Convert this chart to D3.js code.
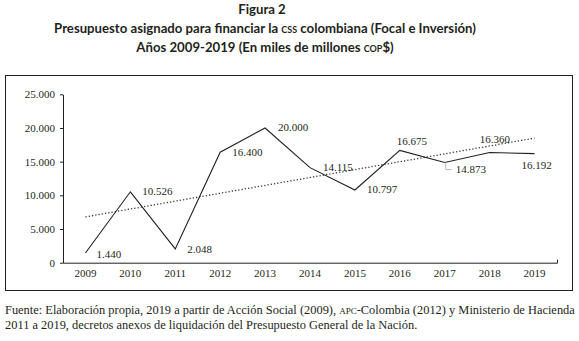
<!DOCTYPE html>
<html>
<head>
<meta charset="utf-8">
<script src="https://cdn.jsdelivr.net/npm/d3@7"></script>
<style>
  body { margin: 0; background: #fff; }
  svg { display: block; }
</style>
</head>
<body>
<div id="chart"></div>
<script>
// Data
const years = ["2009", "2010", "2011", "2012", "2013", "2014", "2015", "2016", "2017", "2018", "2019"];
const budget = [1440, 10526, 2048, 16400, 20000, 14115, 10797, 16675, 14873, 16360, 16192];
const trendEnds = [6800, 18500];   // dotted trend line, read at 2009 and 2019
const yTicks = [0, 5000, 10000, 15000, 20000, 25000];

// Label placement (offsets from each point)
const labelDx = [11, 12, 12, 12, 13, 13, 12, -3, 11, -10, -13];
const labelDy = [1, -1, 0, 0, -1, 0, -1, -9, 6.5, -13.5, 12];

const SERIF = "'Liberation Serif', 'Times New Roman', serif";
const SANS = "Lato, 'Open Sans', sans-serif";
const INK = "#231f20";

const W = 579, H = 341;
const margin = {top: 94.3, right: 22, bottom: 78.3, left: 63};
const width = W - margin.left - margin.right;
const height = H - margin.top - margin.bottom;

const svg = d3.select("#chart").append("svg")
  .attr("width", W)
  .attr("height", H);

// fit a text line to a width by scaling its font size
function fitWidth(sel, target) {
  const fs = parseFloat(sel.style("font-size"));
  const len = sel.node().getComputedTextLength();
  sel.style("font-size", (fs * target / len) + "px");
}

// Titles
const titles = svg.append("g")
  .attr("text-anchor", "middle")
  .style("font-family", SANS)
  .style("font-weight", "bold")
  .style("font-size", "12px")
  .style("fill", INK);
const t1 = titles.append("text").attr("x", 262).attr("y", 14).text("Figura 2");
const t2 = titles.append("text").attr("x", 265).attr("y", 33);
t2.append("tspan").text("Presupuesto asignado para financiar la ");
t2.append("tspan").style("font-variant", "small-caps").text("css");
t2.append("tspan").text(" colombiana (Focal e Inversión)");
const t3 = titles.append("text").attr("x", 265).attr("y", 51.5);
t3.append("tspan").text("Años 2009-2019 (En miles de millones ");
t3.append("tspan").style("font-variant", "small-caps").text("cop");
t3.append("tspan").text("$)");
fitWidth(t2, 422);
const titleSize = t2.style("font-size");
t1.style("font-size", titleSize);
t3.style("font-size", titleSize);

// Frame
svg.append("rect")
  .attr("x", 5.5).attr("y", 75.5)
  .attr("width", 567).attr("height", 215)
  .attr("fill", "none")
  .attr("stroke", INK)
  .attr("stroke-width", 1);

const g = svg.append("g")
  .attr("transform", "translate(" + margin.left + "," + margin.top + ")");

// Scales
const x = d3.scaleBand().domain(years).range([0, width]).padding(0);
const y = d3.scaleLinear().domain([0, 25000]).range([height, 0]);
const cx = d => x(d) + x.bandwidth() / 2;

const loc = d3.formatLocale({decimal: ",", thousands: ".", grouping: [3], currency: ["", ""]});
const fmt = loc.format(",d");

// Axes
g.append("g")
  .call(d3.axisLeft(y).tickValues(yTicks).tickFormat(fmt).tickSizeInner(3).tickSizeOuter(0).tickPadding(5))
  .call(a => a.selectAll("path, line").attr("stroke", INK))
  .call(a => a.selectAll("text").style("font-family", SERIF).style("font-size", "11px").style("fill", INK));

g.append("g")
  .attr("transform", "translate(0," + height + ")")
  .call(d3.axisBottom(x).tickSizeInner(0).tickSizeOuter(-3).tickPadding(7))
  .call(a => a.selectAll("path").attr("stroke", INK))
  .call(a => a.selectAll("text").style("font-family", SERIF).style("font-size", "11px").style("fill", INK));

// Trend line
g.append("line")
  .attr("x1", cx(years[0])).attr("y1", y(trendEnds[0]))
  .attr("x2", cx(years[years.length - 1])).attr("y2", y(trendEnds[1]))
  .attr("stroke", "#3a3a3a")
  .attr("stroke-width", 1.3)
  .attr("stroke-dasharray", "1.3,2");

// Budget line
const line = d3.line()
  .x((d, i) => cx(years[i]))
  .y(d => y(d));
g.append("path")
  .datum(budget)
  .attr("fill", "none")
  .attr("stroke", INK)
  .attr("stroke-width", 1.1)
  .attr("d", line);

// Leader for 2017 label
const i17 = years.indexOf("2017");
g.append("path")
  .attr("d", "M" + (cx(years[i17]) + 1) + "," + y(budget[i17]) + "v7h6")
  .attr("fill", "none")
  .attr("stroke", "#bbb")
  .attr("stroke-width", 1);

// Value labels
g.selectAll("text.lbl")
  .data(budget)
  .enter()
  .append("text")
    .attr("class", "lbl")
    .attr("x", (d, i) => cx(years[i]) + labelDx[i])
    .attr("y", (d, i) => y(d) + labelDy[i])
    .attr("dy", "0.35em")
    .style("font-family", SERIF)
    .style("font-size", "11px")
    .style("fill", INK)
    .text(d => fmt(d));

// Source note
const note = svg.append("g")
  .style("font-family", SERIF)
  .style("font-size", "11.5px")
  .style("fill", INK);
const n1 = note.append("text").attr("x", 5).attr("y", 314);
n1.append("tspan").text("Fuente: Elaboración propia, 2019 a partir de Acción Social (2009), ");
n1.append("tspan").style("font-variant", "small-caps").text("apc");
n1.append("tspan").text("-Colombia (2012) y Ministerio de Hacienda");
const n2 = note.append("text").attr("x", 5).attr("y", 329)
  .text("2011 a 2019, decretos anexos de liquidación del Presupuesto General de la Nación.");
fitWidth(n1, 570);
n2.style("font-size", n1.style("font-size"));
</script>
</body>
</html>
